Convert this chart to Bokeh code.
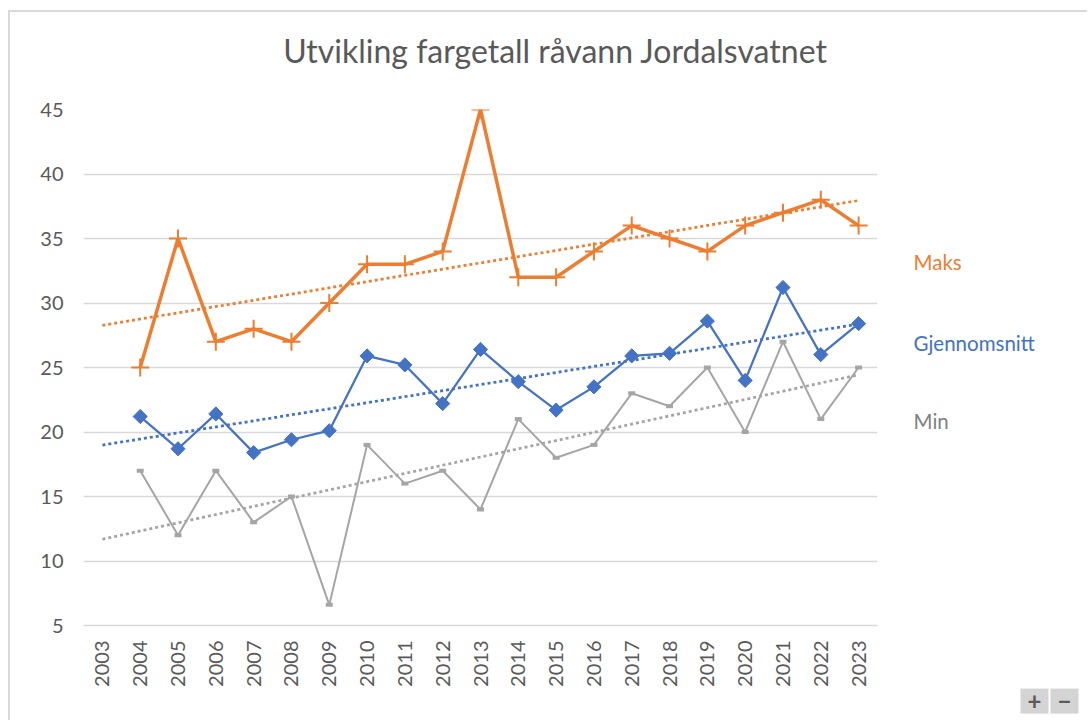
import math
import numpy as np
from bokeh.plotting import figure
from bokeh.layouts import row, column
from bokeh.models import Range1d, FixedTicker
from bokeh.core.properties import value
from bokeh.embed import file_html
from bokeh.resources import INLINE

# ---------------- data ----------------
title_text = "Utvikling fargetall råvann Jordalsvatnet"
years = list(range(2004, 2024))
tick_years = list(range(2003, 2024))
y_ticks = [5, 10, 15, 20, 25, 30, 35, 40, 45]
maks = [25, 35, 27, 28, 27, 30, 33, 33, 34, 45, 32, 32, 34, 36, 35, 34, 36, 37, 38, 36]
snitt = [21.2, 18.7, 21.4, 18.4, 19.4, 20.1, 25.9, 25.2, 22.2, 26.4,
         23.9, 21.7, 23.5, 25.9, 26.1, 28.6, 24.0, 31.2, 26.0, 28.4]
minv = [17, 12, 17, 13, 15, 6.6, 19, 16, 17, 14, 21, 18, 19, 23, 22, 25, 20, 27, 21, 25]
series_names = ["Maks", "Gjennomsnitt", "Min"]
label_levels = [33.2, 26.9, 20.85]

# ---------------- styles ----------------
ORANGE = "#ED7D31"
BLUE = "#4472C4"
GRAY = "#A5A5A5"
TXT = "#595959"
FONT = "Lato"

W_ALL = 1077
T = 75                      # title strip height
H = 708 - T                 # chart strip height
TOP, BOTTOM, LEFT = 97 - T, 95, 73
Y0, Y1 = 5, 45

# ---------------- title strip ----------------
pt = figure(width=W_ALL, height=T, x_range=Range1d(0, W_ALL), y_range=Range1d(0, T),
            output_backend="svg", toolbar_location=None, min_border=0)
pt.frame_align = False
pt.axis.visible = False
pt.grid.visible = False
pt.outline_line_color = None
pt.text(x=[545], y=[T - 37.7], text=[title_text], text_color=TXT,
        text_font=value(FONT), text_font_size="32px",
        text_align="center", text_baseline="alphabetic")

# ---------------- main chart ----------------
p = figure(width=877, height=H,
           x_range=Range1d(2002.5, 2023.5), y_range=Range1d(Y0, Y1),
           output_backend="svg", toolbar_location=None,
           min_border_left=LEFT, min_border_right=10,
           min_border_top=TOP, min_border_bottom=BOTTOM)
p.frame_align = False
p.outline_line_color = None
p.border_fill_color = "white"

p.xgrid.visible = False
p.ygrid.grid_line_color = "#D9D9D9"
p.ygrid.grid_line_width = 1.5

p.yaxis.ticker = FixedTicker(ticks=y_ticks)
p.yaxis.axis_line_color = None
p.yaxis.major_tick_line_color = None
p.yaxis.minor_tick_line_color = None
p.yaxis.major_tick_out = 0
p.yaxis.major_label_standoff = 20
p.yaxis.major_label_text_font = FONT
p.yaxis.major_label_text_font_size = "20px"
p.yaxis.major_label_text_color = TXT

p.xaxis.ticker = FixedTicker(ticks=tick_years)
p.xaxis.axis_line_color = "#D9D9D9"
p.xaxis.axis_line_width = 1.5
p.xaxis.major_tick_line_color = None
p.xaxis.minor_tick_line_color = None
p.xaxis.major_tick_out = 0
p.xaxis.major_label_standoff = 15
p.xaxis.major_label_orientation = math.pi / 2
p.xaxis.major_label_text_font = FONT
p.xaxis.major_label_text_font_size = "20px"
p.xaxis.major_label_text_color = TXT

# series
p.line(years, minv, line_color=GRAY, line_width=2)
p.scatter(years, minv, marker="dash", size=7, line_color=GRAY, line_width=4)

p.line(years, snitt, line_color=BLUE, line_width=2.25)
p.scatter(years, snitt, marker="square", angle=math.pi / 4, size=10,
          fill_color=BLUE, line_color=BLUE)

p.line(years, maks, line_color=ORANGE, line_width=3.5)
p.scatter(years, maks, marker="cross", size=18, line_color=ORANGE, line_width=2)

# linear trend lines (fitted on 2004-2023, extended back one period)
for vals, col in [(maks, ORANGE), (snitt, BLUE), (minv, GRAY)]:
    k, m = np.polyfit(years, vals, 1)
    xs = [tick_years[0], tick_years[-1]]
    p.line(xs, [k * x + m for x in xs], line_color=col, line_width=2.75,
           line_dash="3 3", line_cap="butt")

# ---------------- right-hand panel with series names ----------------
W2 = W_ALL - 877
per_px = (Y1 - Y0) / (H - TOP - BOTTOM)
p2 = figure(width=W2, height=H, x_range=Range1d(0, W2),
            y_range=Range1d(Y0 - BOTTOM * per_px, Y1 + TOP * per_px),
            output_backend="svg", toolbar_location=None, min_border=0)
p2.frame_align = False
p2.axis.visible = False
p2.grid.visible = False
p2.outline_line_color = None

p2.text(x=[26] * 3, y=label_levels, text=series_names,
        text_color=[ORANGE, BLUE, "#808080"], text_font=value(FONT),
        text_font_size="20.5px", text_baseline="middle", text_align="left")

# zoom buttons (viewer decoration)
bx = [147, 177]
p2.quad(left=[b - 14 for b in bx], right=[b + 14 for b in bx],
        top=[0.11] * 2, bottom=[-1.83] * 2, fill_color="#D4D4D4", line_color=None)
p2.text(x=bx, y=[-0.86] * 2, text=["+", "\u2212"], text_color="#5A5A5A",
        text_font=value(FONT), text_font_style="bold", text_font_size="24px",
        text_baseline="middle", text_align="center")

layout = column(pt, row(p, p2))
layout.styles = {"margin-left": "8px", "margin-top": "10px",
                 "border-left": "2px solid #D9D9D9", "border-top": "2px solid #D9D9D9"}

open("out.html", "w").write(file_html(layout, INLINE))
